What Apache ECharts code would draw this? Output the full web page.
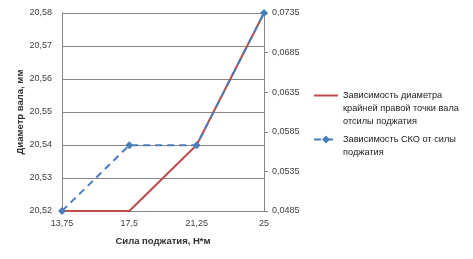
<!DOCTYPE html>
<html><head><meta charset="utf-8">
<script src="https://cdn.jsdelivr.net/npm/echarts@6/dist/echarts.min.js"></script>
<style>html,body{margin:0;padding:0;background:#fff}#c{width:473px;height:259px}</style>
</head><body><div id="c"></div>
<script>
const categories = ['13,75', '17,5', '21,25', '25'];
const diameter = [20.52, 20.52, 20.54, 20.58];
const sko = [0.0485, 0.0568, 0.0568, 0.0735];
const name1 = 'Зависимость диаметра\nкрайней правой точки вала\nотсилы поджатия';
const name2 = 'Зависимость СКО от силы\nподжатия';
const FONT = '"Liberation Sans", Arial, sans-serif';
const chart = echarts.init(document.getElementById('c'));
const lblStyle = {color: '#404040', fontSize: 9, fontFamily: FONT};
const legText = {color: '#202020', fontSize: 9.2, lineHeight: 13, fontFamily: FONT};
chart.setOption({
  animation: false,
  grid: {left: 62, right: 209, top: 13, bottom: 48},
  xAxis: {
    type: 'category', data: categories, boundaryGap: false,
    axisLine: {lineStyle: {color: '#868686'}},
    axisTick: {show: false},
    axisLabel: Object.assign({margin: 8}, lblStyle),
    name: 'Сила поджатия, Н*м', nameLocation: 'middle', nameGap: 25,
    nameTextStyle: {color: '#303030', fontSize: 9.5, fontWeight: 'bold', fontFamily: FONT}
  },
  yAxis: [{
    type: 'value', min: 20.52, max: 20.58, interval: 0.01,
    axisLine: {show: true, lineStyle: {color: '#868686'}},
    axisTick: {show: false},
    splitLine: {lineStyle: {color: '#868686'}},
    axisLabel: Object.assign({margin: 10, formatter: v => v.toFixed(2).replace('.', ',')}, lblStyle),
    name: 'Диаметр вала, мм', nameLocation: 'middle', nameGap: 36, nameRotate: 90,
    nameTextStyle: {color: '#303030', fontSize: 9.5, fontWeight: 'bold', fontFamily: FONT}
  }, {
    type: 'value', min: 0.0485, max: 0.0735, interval: 0.005, position: 'right',
    axisLine: {show: true, lineStyle: {color: '#868686'}},
    axisTick: {show: true, length: 4, lineStyle: {color: '#868686'}},
    splitLine: {show: false},
    axisLabel: Object.assign({margin: 8, formatter: v => v.toFixed(4).replace('.', ',')}, lblStyle)
  }],
  legend: [{
    orient: 'vertical', left: 313, top: 63, padding: 0, itemWidth: 24, itemHeight: 10,
    data: [{name: name1, itemStyle: {opacity: 0}}],
    formatter: n => '\n\n' + n,
    textStyle: legText
  }, {
    orient: 'vertical', left: 313, top: 120, padding: 0, itemWidth: 24, itemHeight: 10,
    data: [{name: name2}],
    formatter: n => '\n' + n,
    textStyle: legText
  }],
  series: [{
    name: name1, type: 'line', yAxisIndex: 0, data: diameter,
    showSymbol: false, symbol: 'none',
    lineStyle: {color: '#be4b48', width: 2}, itemStyle: {color: '#be4b48'}
  }, {
    name: name2, type: 'line', yAxisIndex: 1, data: sko,
    symbol: 'diamond', symbolSize: 8,
    lineStyle: {color: '#4a7ebb', width: 2, type: [7, 5]}, itemStyle: {color: '#4a7ebb'}
  }]
});
</script></body></html>
